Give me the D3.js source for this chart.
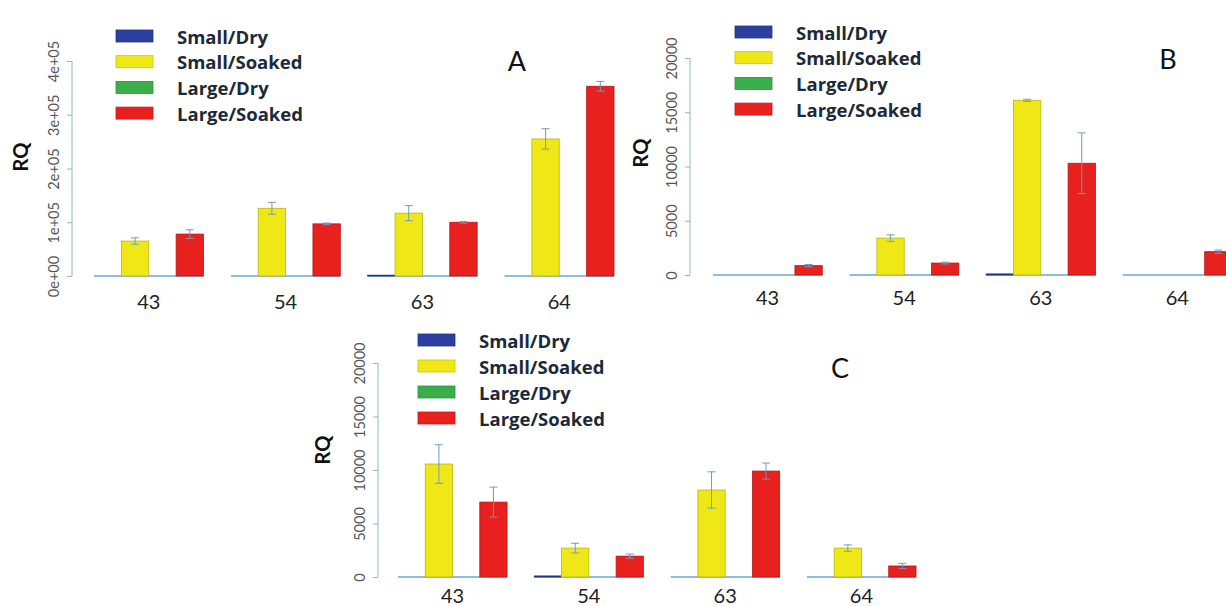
<!DOCTYPE html>
<html lang="en">
<head>
    <meta charset="UTF-8">
    <title>RQ by gene and seed treatment</title>
    <script src="https://d3js.org/d3.v7.min.js"></script>
    <style>
        body { margin: 0; background: #fff; }
        svg { display: block; font-family: Lato, "Open Sans", sans-serif; }
        .tick text { fill: #555; font-size: 14.5px; font-family: Lato, sans-serif; }
        .axis path, .axis line { stroke: #8db4d2; }
        .legend text { font-weight: bold; font-size: 18.5px; fill: #1c2a38; font-family: "Open Sans", sans-serif; }
    </style>
</head>
<body>
    <svg width="1226" height="606"></svg>

    <script>
        // genes on the x axis and the four treatments
        const genes = ["43", "54", "63", "64"];
        const treatments = ["Small/Dry", "Small/Soaked", "Large/Dry", "Large/Soaked"];
        const colors = ["#2a3f9e", "#f0e816", "#3aae48", "#e8201e"];

        // panel A (rows = treatments, columns = genes)
        const rqA = [
            [0, 0, 1500, 0],
            [65000, 126000, 117000, 255000],
            [0, 0, 0, 0],
            [78000, 97000, 100000, 353000]
        ];
        const errA = [
            [0, 0, 0, 0],
            [6000, 11000, 14000, 19000],
            [0, 0, 0, 0],
            [8000, 1500, 1500, 9000]
        ];
        const ticksA = [0, 100000, 200000, 300000, 400000];
        const tickLabelsA = ["0e+00", "1e+05", "2e+05", "3e+05", "4e+05"];

        // panel B
        const rqB = [
            [0, 0, 100, 0],
            [0, 3400, 16100, 0],
            [0, 0, 0, 0],
            [860, 1100, 10300, 2150]
        ];
        const errB = [
            [0, 0, 0, 0],
            [0, 300, 100, 0],
            [0, 0, 0, 0],
            [100, 80, 2800, 150]
        ];

        // panel C
        const rqC = [
            [0, 100, 0, 0],
            [10560, 2700, 8130, 2700],
            [0, 0, 0, 0],
            [7000, 1950, 9900, 1030]
        ];
        const errC = [
            [0, 0, 0, 0],
            [1800, 450, 1700, 300],
            [0, 0, 0, 0],
            [1400, 200, 750, 250]
        ];
        const ticksBC = [0, 5000, 10000, 15000, 20000];
        const tickLabelsBC = ["0", "5000", "10000", "15000", "20000"];

        const svg = d3.select("svg");

        function drawPanel(p) {
            const g = svg.append("g");

            const x = d3.scaleBand().domain(genes).range(p.xRange).paddingInner(0.2).paddingOuter(0);
            const xs = d3.scaleBand().domain(treatments).range([0, x.bandwidth()]);
            const y = d3.scaleLinear().domain(p.yDomain).range(p.yRange);

            // y axis with rotated labels, like R
            const axis = g.append("g")
                .attr("class", "axis")
                .attr("transform", `translate(${p.axisX},0)`)
                .call(d3.axisLeft(y).tickValues(p.ticks).tickSize(5).tickSizeOuter(0)
                    .tickFormat((d, i) => p.tickLabels[i]));
            axis.select(".domain").attr("d", `M0,${y(p.ticks[0])}V${y(p.ticks[p.ticks.length - 1])}`);
            axis.selectAll(".tick text")
                .attr("transform", "rotate(-90)")
                .attr("x", 0)
                .attr("y", -13)
                .attr("dy", "0")
                .attr("text-anchor", "middle");

            // baseline under each group
            g.append("g").selectAll("line")
                .data(genes)
                .join("line")
                .attr("x1", d => x(d))
                .attr("x2", d => x(d) + x.bandwidth())
                .attr("y1", y(0))
                .attr("y2", y(0))
                .attr("stroke", "#6ea4d0")
                .attr("stroke-width", 1.5);

            const cells = [];
            treatments.forEach((t, si) => {
                genes.forEach((gene, gi) => {
                    cells.push({ gene, t, si, v: p.values[si][gi], e: p.errors[si][gi] });
                });
            });

            g.append("g").selectAll("rect")
                .data(cells.filter(d => d.v > 0))
                .join("rect")
                .attr("x", d => x(d.gene) + xs(d.t))
                .attr("width", xs.bandwidth())
                .attr("y", d => y(d.v))
                .attr("height", d => y(0) - y(d.v))
                .attr("fill", d => colors[d.si])
                .attr("stroke", d => d3.color(colors[d.si]).darker(0.7))
                .attr("stroke-width", 0.8);

            // error bars
            const eb = g.append("g").selectAll("g")
                .data(cells.filter(d => d.e > 0))
                .join("g")
                .attr("stroke", "#6d9cc4")
                .attr("stroke-width", 1);
            const cx = d => x(d.gene) + xs(d.t) + xs.bandwidth() / 2;
            eb.append("line")
                .attr("x1", cx).attr("x2", cx)
                .attr("y1", d => y(d.v - d.e)).attr("y2", d => y(d.v + d.e));
            eb.append("line")
                .attr("x1", d => cx(d) - 4).attr("x2", d => cx(d) + 4)
                .attr("y1", d => y(d.v + d.e)).attr("y2", d => y(d.v + d.e));
            eb.append("line")
                .attr("x1", d => cx(d) - 4).attr("x2", d => cx(d) + 4)
                .attr("y1", d => y(d.v - d.e)).attr("y2", d => y(d.v - d.e));

            // gene labels
            g.append("g").selectAll("text")
                .data(genes)
                .join("text")
                .attr("x", d => x(d) + x.bandwidth() / 2)
                .attr("y", p.labelY)
                .attr("text-anchor", "middle")
                .attr("dominant-baseline", "central")
                .style("font-size", "20px")
                .style("fill", "#222")
                .text(d => d);

            // RQ title
            g.append("text")
                .attr("transform", `translate(${p.rqPos[0]},${p.rqPos[1]}) rotate(-90)`)
                .attr("text-anchor", "middle")
                .attr("dominant-baseline", "central")
                .style("font-size", "20px")
                .style("font-weight", "bold")
                .style("fill", "#111")
                .text("RQ");

            // panel letter
            g.append("text")
                .attr("x", p.letterPos[0])
                .attr("y", p.letterPos[1])
                .attr("text-anchor", "middle")
                .attr("dominant-baseline", "central")
                .style("font-size", "27px")
                .style("fill", "#111")
                .text(p.letter);

            // legend
            const lg = g.append("g").attr("class", "legend")
                .selectAll("g")
                .data(treatments)
                .join("g")
                .attr("transform", (d, i) => `translate(${p.legend[0]},${p.legend[1] + i * p.legendStep})`);
            lg.append("rect")
                .attr("x", 0).attr("y", -6)
                .attr("width", 37).attr("height", 12)
                .attr("fill", (d, i) => colors[i])
                .attr("stroke", (d, i) => d3.color(colors[i]).darker(0.5))
                .attr("stroke-width", 0.8);
            lg.append("text")
                .attr("x", 61)
                .attr("y", 0)
                .attr("dominant-baseline", "central")
                .text(d => d);
        }

        drawPanel({
            letter: "A", values: rqA, errors: errA,
            xRange: [94, 614], yDomain: [0, 400000], yRange: [276, 61],
            ticks: ticksA, tickLabels: tickLabelsA, axisX: 72,
            labelY: 301, rqPos: [20, 157], letterPos: [517, 60],
            legend: [116, 36], legendStep: 25.7
        });

        drawPanel({
            letter: "B", values: rqB, errors: errB,
            xRange: [713, 1232], yDomain: [0, 20000], yRange: [275, 58],
            ticks: ticksBC, tickLabels: tickLabelsBC, axisX: 690,
            labelY: 297, rqPos: [640, 153], letterPos: [1168, 58],
            legend: [735, 32], legendStep: 25.7
        });

        drawPanel({
            letter: "C", values: rqC, errors: errC,
            xRange: [398, 916], yDomain: [0, 20000], yRange: [577, 363],
            ticks: ticksBC, tickLabels: tickLabelsBC, axisX: 378,
            labelY: 595, rqPos: [322, 450], letterPos: [840, 367],
            legend: [418, 340], legendStep: 26
        });
    </script>
</body>
</html>
